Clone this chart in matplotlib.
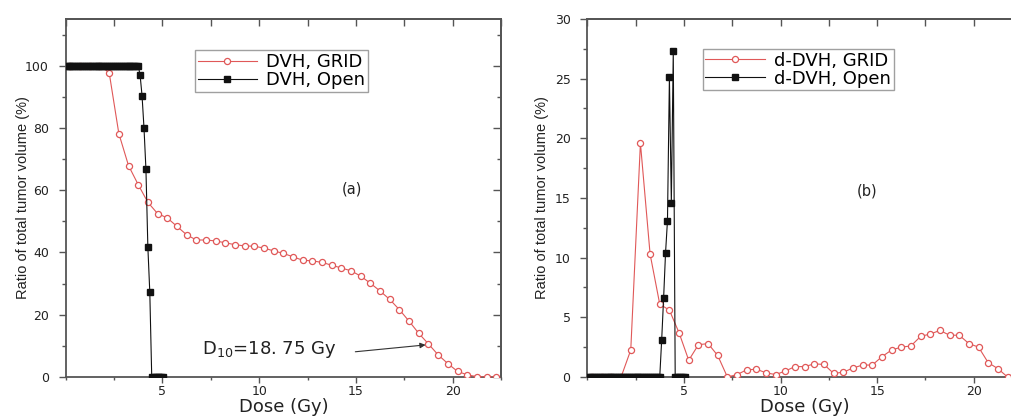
import matplotlib
matplotlib.use("Agg")
import matplotlib.pyplot as plt
from matplotlib.ticker import MultipleLocator

# ---------------- data ----------------
# (a) cumulative DVH
dose_grid_a = [0.25, 0.75, 1.25, 1.75, 2.25, 2.75, 3.25, 3.75, 4.25, 4.75, 5.25, 5.75,
               6.25, 6.75, 7.25, 7.75, 8.25, 8.75, 9.25, 9.75, 10.25, 10.75, 11.25,
               11.75, 12.25, 12.75, 13.25, 13.75, 14.25, 14.75, 15.25, 15.75, 16.25,
               16.75, 17.25, 17.75, 18.25, 18.75, 19.25, 19.75, 20.25, 20.75, 21.25,
               21.75, 22.25]
dvh_grid = [100, 100, 100, 100, 97.8, 78.2, 67.9, 61.8, 56.1, 52.5, 51.1, 48.4,
            45.7, 44.0, 44.0, 43.7, 43.1, 42.5, 42.1, 42.0, 41.4, 40.5, 39.7,
            38.6, 37.5, 37.3, 36.8, 35.9, 35.0, 34.1, 32.4, 30.1, 27.6,
            24.9, 21.6, 17.9, 14.0, 10.6, 7.1, 4.3, 1.8, 0.7, 0.1,
            0, 0]

dose_open = [0.05, 0.15, 0.25, 0.35, 0.45, 0.55, 0.65, 0.75, 0.85, 0.95,
             1.05, 1.15, 1.25, 1.35, 1.45, 1.55, 1.65, 1.75, 1.85, 1.95,
             2.05, 2.15, 2.25, 2.35, 2.45, 2.55, 2.65, 2.75, 2.85, 2.95,
             3.05, 3.15, 3.25, 3.35, 3.45, 3.55, 3.65, 3.75, 3.85, 3.95,
             4.05, 4.15, 4.25, 4.35, 4.45, 4.55, 4.65, 4.75, 4.85, 4.95, 5.05]
dvh_open = [100, 100, 100, 100, 100, 100, 100, 100, 100, 100,
            100, 100, 100, 100, 100, 100, 100, 100, 100, 100,
            100, 100, 100, 100, 100, 100, 100, 100, 100, 100,
            100, 100, 100, 100, 100, 100, 100, 100, 96.9, 90.3,
            80.0, 66.8, 41.7, 27.2, 0, 0, 0, 0, 0, 0, 0]

# (b) differential DVH
dose_grid_b = [0.25, 0.75, 1.25, 1.75, 2.25, 2.75, 3.25, 3.75, 4.25, 4.75, 5.25, 5.75,
               6.25, 6.75, 7.25, 7.75, 8.25, 8.75, 9.25, 9.75, 10.25, 10.75, 11.25,
               11.75, 12.25, 12.75, 13.25, 13.75, 14.25, 14.75, 15.25, 15.75, 16.25,
               16.75, 17.25, 17.75, 18.25, 18.75, 19.25, 19.75, 20.25, 20.75, 21.25,
               21.75]
ddvh_grid = [0, 0, 0, 0, 2.26, 19.6, 10.3, 6.1, 5.6, 3.7, 1.4, 2.7,
             2.8, 1.8, 0, 0.2, 0.6, 0.65, 0.35, 0.2, 0.5, 0.87, 0.87,
             1.1, 1.05, 0.3, 0.4, 0.75, 1.0, 1.0, 1.7, 2.26, 2.5,
             2.6, 3.4, 3.6, 3.9, 3.5, 3.5, 2.8, 2.5, 1.2, 0.7,
             0]
ddvh_open = [0, 0, 0, 0, 0, 0, 0, 0, 0, 0,
             0, 0, 0, 0, 0, 0, 0, 0, 0, 0,
             0, 0, 0, 0, 0, 0, 0, 0, 0, 0,
             0, 0, 0, 0, 0, 0, 0, 0, 3.1, 6.6,
             10.4, 13.1, 25.1, 14.6, 27.3, 0, 0, 0, 0, 0, 0]

labels_a = ["DVH, GRID", "DVH, Open"]
labels_b = ["d-DVH, GRID", "d-DVH, Open"]
ylabel = "Ratio of total tumor volume (%)"
xlabel = "Dose (Gy)"

# ---------------- style ----------------
RED = "#e05858"
BLACK = "#111111"
SPINE = "#555555"
TICKFONT = 9
NARROW = ["Liberation Sans Narrow", "Liberation Sans", "DejaVu Sans"]

plt.rcParams["font.family"] = ["DejaVu Sans"]

fig = plt.figure(figsize=(10.11, 4.16), dpi=100)
axA = fig.add_axes([0.0649, 0.0938, 0.4307, 0.8606])
axB = fig.add_axes([0.5809, 0.0938, 0.4300, 0.8606])


def style(ax, xmaj, xmin, ymaj, ymin, xlim, ylim):
    ax.set_xlim(*xlim)
    ax.set_ylim(*ylim)
    ax.xaxis.set_major_locator(MultipleLocator(xmaj))
    ax.xaxis.set_minor_locator(MultipleLocator(xmin))
    ax.yaxis.set_major_locator(MultipleLocator(ymaj))
    ax.yaxis.set_minor_locator(MultipleLocator(ymin))
    for s in ax.spines.values():
        s.set_color(SPINE)
        s.set_linewidth(1.3)
    ax.tick_params(which="both", top=False, right=False, color=SPINE,
                   labelsize=TICKFONT, labelcolor="#222222")
    ax.tick_params(axis="x", which="major", direction="out", length=4, width=1, pad=2)
    ax.tick_params(axis="x", which="minor", direction="out", length=2, width=1)
    ax.tick_params(axis="y", which="major", direction="out", length=5, width=1, pad=7)
    ax.tick_params(axis="y", which="minor", direction="out", length=3, width=1)
    # inward ticks on top and right
    sx = ax.secondary_xaxis("top")
    sx.xaxis.set_major_locator(MultipleLocator(xmaj))
    sx.xaxis.set_minor_locator(MultipleLocator(xmin))
    sx.tick_params(which="major", direction="in", length=5, width=1, color=SPINE, labeltop=False)
    sx.tick_params(which="minor", direction="in", length=5, width=1, color=SPINE)
    sx.spines["top"].set_color(SPINE)
    sx.spines["top"].set_linewidth(1.3)
    sy = ax.secondary_yaxis("right")
    sy.yaxis.set_major_locator(MultipleLocator(ymaj))
    sy.yaxis.set_minor_locator(MultipleLocator(ymin))
    sy.tick_params(which="major", direction="in", length=6, width=1, color=SPINE, labelright=False)
    sy.tick_params(which="minor", direction="in", length=3, width=1, color=SPINE)
    sy.spines["right"].set_color(SPINE)
    sy.spines["right"].set_linewidth(1.3)
    ax.set_xlabel(xlabel, fontsize=13, color="#222222")
    ax.xaxis.set_label_coords(0.5, -0.058)
    ax.set_ylabel(ylabel, fontsize=10.5, family=NARROW, color="#222222", va="center")


def legend(ax, anchor):
    leg = ax.legend(loc="upper left", bbox_to_anchor=anchor, fontsize=13,
                    frameon=True, fancybox=False, edgecolor="#888888",
                    handlelength=3.3, handletextpad=0.5, borderpad=0.15,
                    labelspacing=0.0, borderaxespad=0)
    leg.get_frame().set_linewidth(1.0)
    return leg


# ---- panel (a)
axA.plot(dose_grid_a, dvh_grid, color=RED, lw=0.8, marker="o", ms=4.4,
         mfc="white", mec=RED, mew=0.9, label=labels_a[0], zorder=3)
axA.plot(dose_open, dvh_open, color=BLACK, lw=0.8, marker="s", ms=4.4,
         mfc=BLACK, mec=BLACK, label=labels_a[1], zorder=4)
style(axA, 5, 2.5, 20, 10, (0, 22.5), (0, 115))
axA.set_xticks([5, 10, 15, 20])
axA.set_yticks([0, 20, 40, 60, 80, 100])
axA.yaxis.set_label_coords(-0.098, 0.5)
legend(axA, (0.297, 0.913))
axA.text(14.8, 60.3, "(a)", fontsize=10.5, ha="center", va="center", color="#222222")
axA.text(7.04, 8.7, "D$_{10}$=18. 75 Gy", fontsize=13, ha="left", va="center",
         color="#222222")
axA.annotate("", xy=(18.6, 10.3), xytext=(14.97, 8.1),
             arrowprops=dict(arrowstyle="-|>", color="#333333", lw=0.8,
                             mutation_scale=8, shrinkA=0, shrinkB=0))

# ---- panel (b)
axB.plot(dose_grid_b, ddvh_grid, color=RED, lw=0.8, marker="o", ms=4.4,
         mfc="white", mec=RED, mew=0.9, label=labels_b[0], zorder=3)
axB.plot(dose_open, ddvh_open, color=BLACK, lw=0.8, marker="s", ms=4.4,
         mfc=BLACK, mec=BLACK, label=labels_b[1], zorder=4)
style(axB, 5, 2.5, 5, 2.5, (0, 22.5), (0, 30))
axB.set_xticks([5, 10, 15, 20])
axB.yaxis.set_label_coords(-0.104, 0.5)
legend(axB, (0.2655, 0.916))
axB.text(14.5, 15.6, "(b)", fontsize=10.5, ha="center", va="center", color="#222222")

fig.savefig("out.png", dpi=100)
